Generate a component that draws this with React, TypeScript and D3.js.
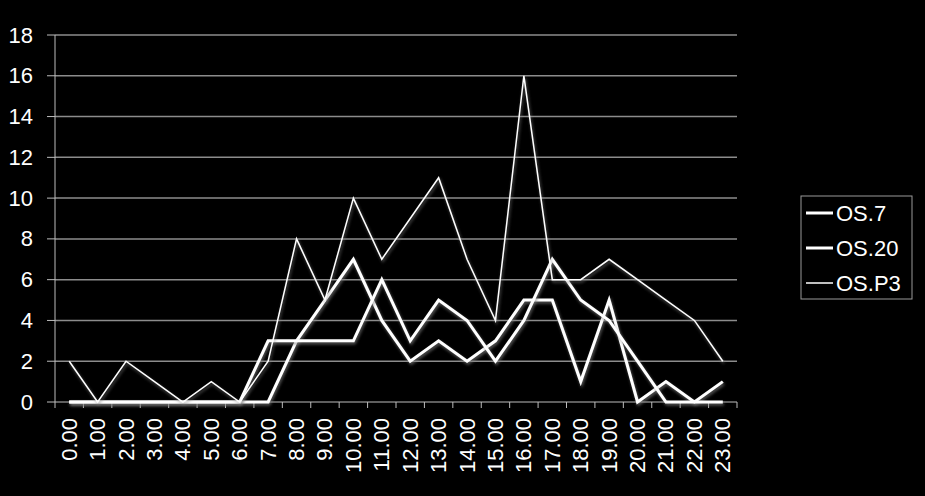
import React from "react";
import * as d3 from "d3";

const categories = ["0.00","1.00","2.00","3.00","4.00","5.00","6.00","7.00","8.00","9.00","10.00","11.00","12.00","13.00","14.00","15.00","16.00","17.00","18.00","19.00","20.00","21.00","22.00","23.00"];
const os7 = [0,0,0,0,0,0,0,0,3,5,7,4,2,3,2,3,5,5,1,5,0,1,0,1];
const os20 = [0,0,0,0,0,0,0,3,3,3,3,6,3,5,4,2,4,7,5,4,2,0,0,0];
const osP3 = [2,0,2,1,0,1,0,2,8,5,10,7,9,11,7,4,16,6,6,7,6,5,4,2];
const yTicks = [0,2,4,6,8,10,12,14,16,18];
const seriesNames = ["OS.7","OS.20","OS.P3"];

const W = 925, H = 496;
const left = 55, right = 737, top = 35, bottom = 402;
const font = "'Liberation Sans', Arial, sans-serif";

export default function App() {
  const x = d3.scaleBand<string>().domain(categories).range([left, right]).padding(0);
  const y = d3.scaleLinear().domain([0, 18]).range([bottom, top]);
  const cx = (i: number) => (x(categories[i]) as number) + x.bandwidth() / 2;
  const line = d3.line<number>().x((_, i) => cx(i)).y((d) => y(d));
  const series = [
    { name: seriesNames[0], data: os7, w: 3 },
    { name: seriesNames[1], data: os20, w: 3 },
    { name: seriesNames[2], data: osP3, w: 1.5 },
  ];
  const boundaries = categories.map((c) => x(c) as number).concat([right]);
  const legendRows = [213, 248, 283];
  return (
    <svg width={W} height={H} style={{ position: "fixed", left: 0, top: 0, background: "#000" }}>
      <defs>
        <filter id="sh" x="-10%" y="-10%" width="120%" height="130%">
          <feDropShadow dx="1" dy="2" stdDeviation="1.5" floodColor="#808080" floodOpacity="0.7" />
        </filter>
      </defs>
      <rect x={0} y={0} width={W} height={H} fill="#000" />
      {yTicks.map((t) => (
        <g key={t}>
          {t > 0 && <line x1={left} x2={right} y1={y(t)} y2={y(t)} stroke="#8c8c8c" strokeWidth={1.5} />}
          <line x1={47} x2={left} y1={y(t)} y2={y(t)} stroke="#bdbdbd" strokeWidth={1} />
          <text x={33} y={y(t)} textAnchor="end" dominantBaseline="central" fill="#fff" fontFamily={font} fontSize={22}>{t}</text>
        </g>
      ))}
      <line x1={left} x2={left} y1={top} y2={bottom} stroke="#bdbdbd" strokeWidth={1} />
      <line x1={left} x2={right} y1={bottom} y2={bottom} stroke="#bdbdbd" strokeWidth={1} />
      {boundaries.map((b, i) => (
        <line key={i} x1={b} x2={b} y1={bottom} y2={bottom + 6} stroke="#bdbdbd" strokeWidth={1} />
      ))}
      {categories.map((c, i) => (
        <text key={c} transform={`translate(${cx(i)},418) rotate(-90)`} textAnchor="end" dominantBaseline="central" fill="#fff" fontFamily={font} fontSize={22}>{c}</text>
      ))}
      {series.map((s) => (
        <path key={s.name} d={line(s.data) as string} fill="none" stroke="#fff" strokeWidth={s.w} strokeLinejoin="miter" filter="url(#sh)" />
      ))}
      <rect x={801} y={196} width={111} height={103} fill="#000" stroke="#9a9a9a" strokeWidth={1} />
      {series.map((s, i) => (
        <g key={s.name}>
          <line x1={806} x2={833} y1={legendRows[i]} y2={legendRows[i]} stroke="#fff" strokeWidth={s.w} />
          <text x={836} y={legendRows[i]} dominantBaseline="central" fill="#fff" fontFamily={font} fontSize={22}>{s.name}</text>
        </g>
      ))}
    </svg>
  );
}
